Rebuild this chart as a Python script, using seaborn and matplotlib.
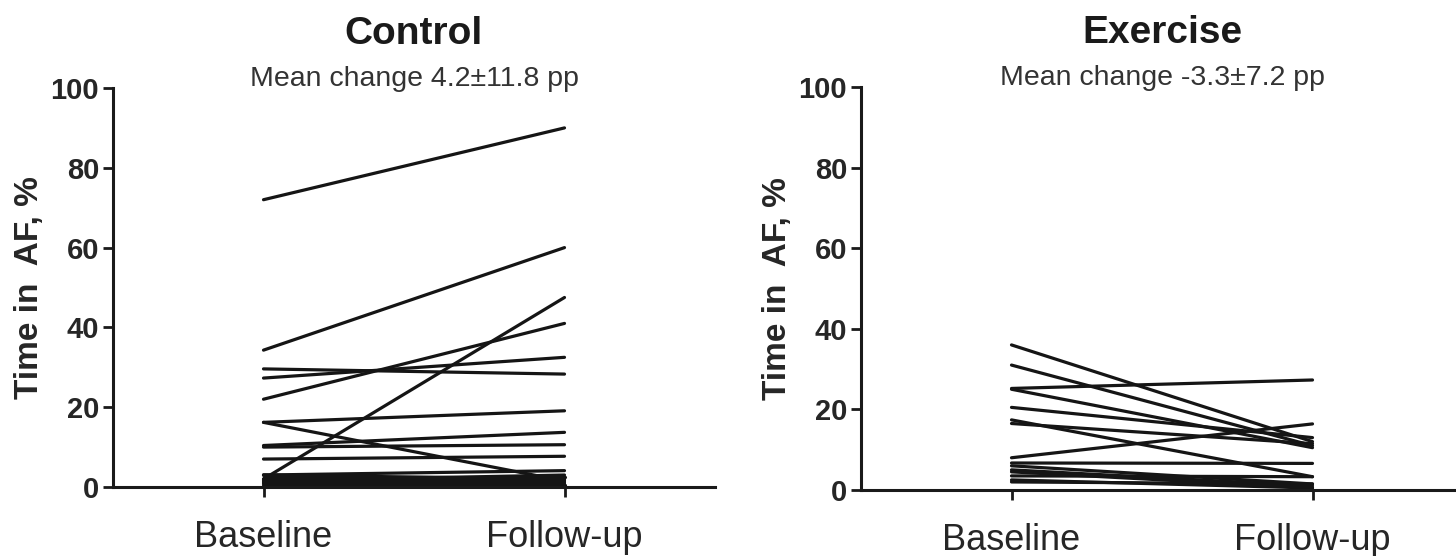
import matplotlib
matplotlib.use("Agg")
import matplotlib.pyplot as plt
import pandas as pd
import seaborn as sns

# time in AF (%) per patient
control_baseline = [72, 34.3, 2, 22, 29.6, 27.3, 16.2, 16.2, 10.4, 10, 7, 3,
                    2.5, 1.5, 3, 1, 0.5, 2, 0, 1, 3, 0.5, 0, 1.5]
control_followup = [90, 60, 47.5, 41, 28.3, 32.5, 19.1, 1.5, 13.7, 10.6, 7.7, 4.1,
                    2.5, 3, 1, 2, 0.5, 0, 1.5, 0.5, 2, 2.5, 0, 1]

exercise_baseline = [36, 31, 25.2, 25, 20.5, 17.4, 16.5, 8, 6.7, 6, 5, 4.5, 2.5,
                     3.5, 2]
exercise_followup = [12, 11, 27.3, 10.5, 13, 3.3, 11.5, 16.4, 6.6, 1.5, 1, 0.5, 0.5,
                     3.3, 1.5]

time_labels = ["Baseline", "Follow-up"]
groups = ["Control", "Exercise"]
subtitles = ["Mean change 4.2\u00b111.8 pp", "Mean change -3.3\u00b17.2 pp"]


def to_long(baseline, followup):
    rows = []
    for i, (b, f) in enumerate(zip(baseline, followup)):
        rows.append({"id": i, "t": 0, "af": b})
        rows.append({"id": i, "t": 1, "af": f})
    return pd.DataFrame(rows)


sns.set_style("ticks")
plt.rcParams["font.family"] = ["Liberation Sans", "DejaVu Sans"]

fig = plt.figure(figsize=(14.56, 5.56), dpi=100)
ax1 = fig.add_axes([113 / 1456, 69 / 556, 602 / 1456, 399 / 556])
ax2 = fig.add_axes([861 / 1456, 66 / 556, 602 / 1456, 403 / 556])

data = [to_long(control_baseline, control_followup),
        to_long(exercise_baseline, exercise_followup)]

for ax, df, title, sub in zip([ax1, ax2], data, groups, subtitles):
    sns.lineplot(data=df, x="t", y="af", units="id", estimator=None,
                 color="#151515", linewidth=2.3, ax=ax)
    ax.set_xlim(-0.5, 1.5)
    ax.set_ylim(0, 100)
    ax.set_xticks([0, 1])
    ax.set_xticklabels(time_labels)
    ax.set_yticks(range(0, 101, 20))
    ax.set_xlabel("")
    ax.set_ylabel("Time in  AF, %", fontsize=24, fontweight="bold", labelpad=4)
    for side in ["top", "right"]:
        ax.spines[side].set_visible(False)
    for side in ["left", "bottom"]:
        ax.spines[side].set_linewidth(2.2)
        ax.spines[side].set_color("#1a1a1a")
    ax.tick_params(axis="both", direction="out", length=7, width=2, color="#1a1a1a")
    ax.tick_params(axis="y", labelsize=21, pad=3)
    ax.tick_params(axis="x", labelsize=26, pad=17)
    for lab in ax.get_yticklabels():
        lab.set_fontweight("bold")
    ax.set_title(title, fontsize=28, fontweight="bold", pad=32, color="#1a1a1a")
    ax.text(0.5, 1.005, sub, transform=ax.transAxes, ha="center", va="baseline",
            fontsize=20.5, color="#333333")

fig.savefig("out.png", dpi=100)
